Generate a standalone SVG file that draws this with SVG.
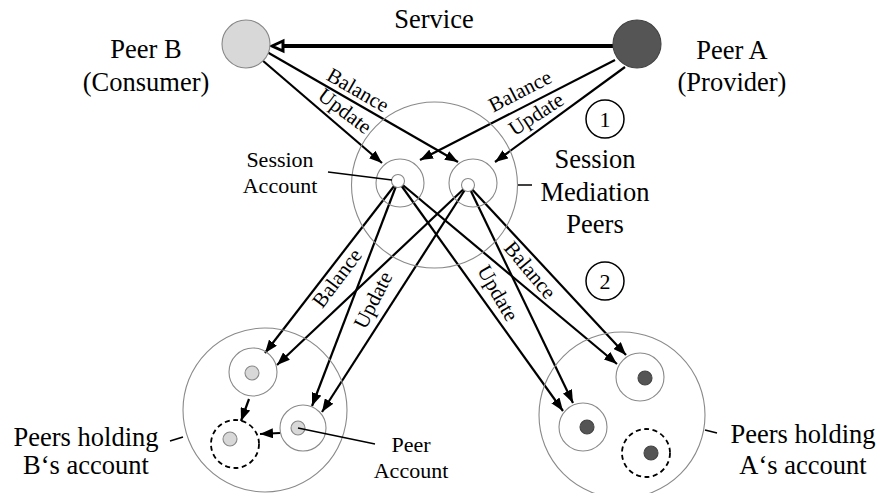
<svg xmlns="http://www.w3.org/2000/svg" width="877" height="493" viewBox="0 0 877 493">
<defs>
<marker id="ah" markerUnits="userSpaceOnUse" markerWidth="14" markerHeight="10" refX="13" refY="5" orient="auto">
<path d="M0,0 L13,5 L0,10 z" fill="#000"/>
</marker>
<style>
.t{font-family:"Liberation Serif","Times New Roman",serif;fill:#000;text-anchor:middle}
.big{font-size:26.5px}
.mid{font-size:22px}
.lbl{font-size:21px}
.thin{fill:none;stroke:#8a8a8a;stroke-width:1.1}
.dash{fill:none;stroke:#000;stroke-width:1.8;stroke-dasharray:5,3.5}
.conn{stroke:#000;stroke-width:2.2;fill:none}
.lead{stroke:#000;stroke-width:1.5;fill:none}
.lt{fill:#d8d8d8;stroke:#888;stroke-width:1.1}
.dk{fill:#555;stroke:#444;stroke-width:1.1}
.sa{fill:#fff;stroke:#888;stroke-width:1.1}
</style>
</defs>
<rect width="877" height="493" fill="#fff"/>

<g id="connectors">
<line x1="613" y1="46" x2="283" y2="46" stroke="#000" stroke-width="4"/>
<polygon points="272,46 283,41 283,51" fill="#fff" stroke="#000" stroke-width="3"/>
<line class="conn" x1="262" y1="60" x2="382" y2="163" marker-end="url(#ah)"/>
<line class="conn" x1="267" y1="52" x2="458" y2="162" marker-end="url(#ah)"/>
<line class="conn" x1="615" y1="60" x2="420" y2="160" marker-end="url(#ah)"/>
<line class="conn" x1="625" y1="67" x2="495" y2="162" marker-end="url(#ah)"/>
<line class="conn" x1="398" y1="181" x2="265" y2="353" marker-end="url(#ah)"/>
<line class="conn" x1="468" y1="185" x2="277" y2="365" marker-end="url(#ah)"/>
<line class="conn" x1="398" y1="181" x2="312" y2="406" marker-end="url(#ah)"/>
<line class="conn" x1="468" y1="185" x2="322" y2="412" marker-end="url(#ah)"/>
<line class="conn" x1="398" y1="181" x2="563" y2="411" marker-end="url(#ah)"/>
<line class="conn" x1="468" y1="185" x2="573" y2="403" marker-end="url(#ah)"/>
<line class="conn" x1="398" y1="181" x2="617" y2="364" marker-end="url(#ah)"/>
<line class="conn" x1="468" y1="185" x2="626" y2="355" marker-end="url(#ah)"/>
<line class="conn" x1="249" y1="399" x2="241" y2="421" marker-end="url(#ah)"/>
<line class="conn" x1="280" y1="433" x2="260" y2="434" marker-end="url(#ah)"/>
<text class="t big" x="434" y="28">Service</text>
<text class="t lbl" transform="translate(358,90) rotate(30)" y="7">Balance</text>
<text class="t lbl" transform="translate(345,111) rotate(37)" y="7">Update</text>
<text class="t lbl" transform="translate(520,91) rotate(-27.5)" y="7">Balance</text>
<text class="t lbl" transform="translate(536,114) rotate(-33)" y="7">Update</text>
<text class="t lbl" transform="translate(337,278) rotate(-53)" y="7">Balance</text>
<text class="t lbl" transform="translate(373,300) rotate(-63)" y="7">Update</text>
<text class="t lbl" transform="translate(530,270) rotate(50)" y="7">Balance</text>
<text class="t lbl" transform="translate(498,293) rotate(60)" y="7">Update</text>
</g>

<g id="peer-b">
<circle class="lt" cx="246" cy="44" r="24"/>
<text class="t big" x="146" y="58">Peer B</text>
<text class="t big" x="146" y="91">(Consumer)</text>
</g>

<g id="peer-a">
<circle class="dk" cx="637" cy="44" r="24"/>
<text class="t big" x="732" y="59">Peer A</text>
<text class="t big" x="732" y="91">(Provider)</text>
</g>

<g id="session-mediation">
<circle class="thin" cx="434.5" cy="185" r="83"/>
<line class="lead" x1="518" y1="185" x2="532" y2="185"/>
<text class="t big" x="595" y="168">Session</text>
<text class="t big" x="595" y="201">Mediation</text>
<text class="t big" x="595" y="233">Peers</text>
</g>

<g id="session-account-b">
<circle class="thin" cx="400" cy="183" r="24"/>
<circle class="sa" cx="398" cy="181" r="6.5"/>
<line class="lead" x1="328" y1="172" x2="392" y2="180"/>
<text class="t mid" x="280" y="167">Session</text>
<text class="t mid" x="280" y="193">Account</text>
</g>

<g id="session-account-a">
<circle class="thin" cx="473" cy="183" r="24"/>
<circle class="sa" cx="468" cy="185" r="6.5"/>
</g>

<g id="step-1">
<circle cx="605" cy="119" r="19" fill="none" stroke="#000" stroke-width="1.5"/>
<text class="t mid" x="605" y="127">1</text>
</g>

<g id="step-2">
<circle cx="605" cy="281" r="19" fill="none" stroke="#000" stroke-width="1.5"/>
<text class="t mid" x="605" y="289">2</text>
</g>

<g id="b-holders">
<circle class="thin" cx="265" cy="410" r="82"/>
<line class="lead" x1="170" y1="441" x2="183" y2="437"/>
<text class="t big" x="86" y="446">Peers holding</text>
<text class="t big" x="86" y="474">B‘s account</text>
</g>

<g id="b-peer-1">
<circle class="thin" cx="253" cy="372" r="24"/>
<circle class="lt" cx="252" cy="373" r="7"/>
</g>

<g id="b-peer-2">
<circle class="thin" cx="303" cy="428" r="23"/>
<circle class="lt" cx="298" cy="428" r="7"/>
<line class="lead" x1="298" y1="428" x2="375" y2="444"/>
<text class="t mid" x="411" y="452">Peer</text>
<text class="t mid" x="411" y="478">Account</text>
</g>

<g id="b-peer-3">
<circle class="dash" cx="235" cy="444" r="24"/>
<circle class="lt" cx="230" cy="439" r="7"/>
</g>

<g id="a-holders">
<circle class="thin" cx="622" cy="415" r="83"/>
<line class="lead" x1="705" y1="430" x2="717" y2="433"/>
<text class="t big" x="803" y="443">Peers holding</text>
<text class="t big" x="803" y="474">A‘s account</text>
</g>

<g id="a-peer-1">
<circle class="thin" cx="640" cy="377" r="24"/>
<circle class="dk" cx="645" cy="378" r="7"/>
</g>

<g id="a-peer-2">
<circle class="thin" cx="583" cy="427" r="24"/>
<circle class="dk" cx="587" cy="427" r="7"/>
</g>

<g id="a-peer-3">
<circle class="dash" cx="646" cy="453" r="24"/>
<circle class="dk" cx="651" cy="453" r="7"/>
</g>
</svg>
